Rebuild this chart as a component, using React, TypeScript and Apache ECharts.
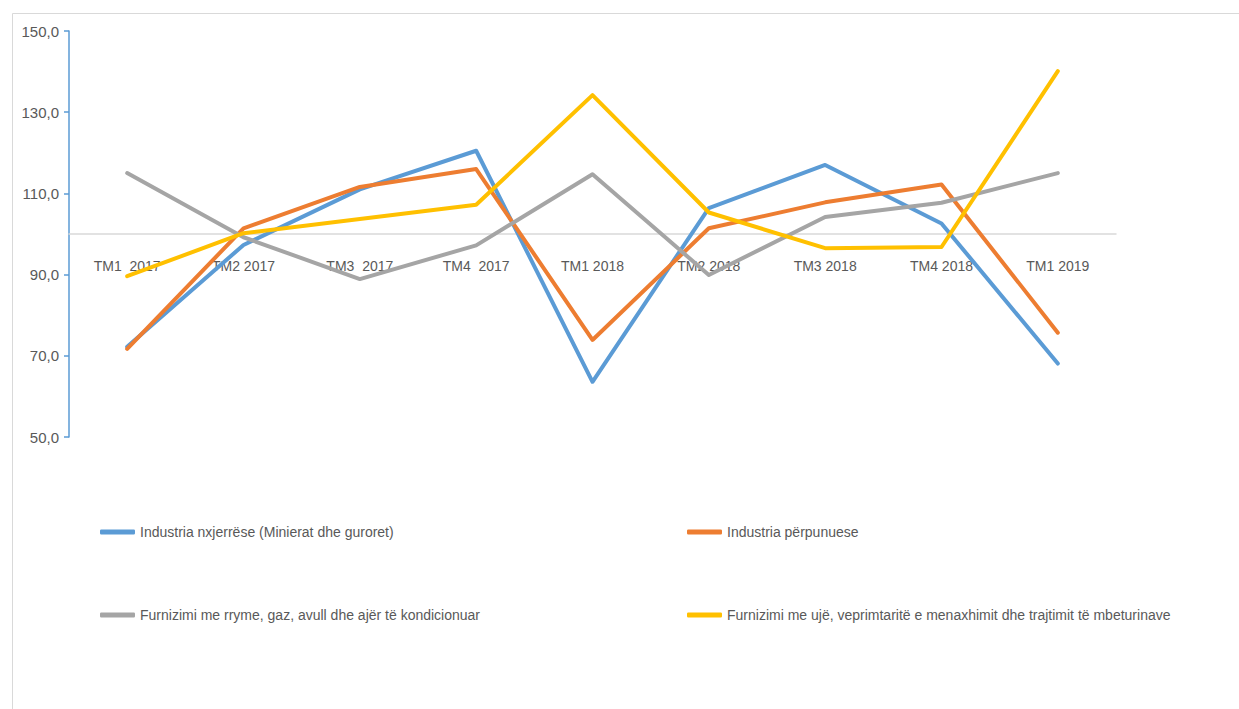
import React, { useEffect, useRef } from "react";
import * as echarts from "echarts";

const categories = [
  "TM1  2017",
  "TM2 2017",
  "TM3  2017",
  "TM4  2017",
  "TM1 2018",
  "TM2 2018",
  "TM3 2018",
  "TM4 2018",
  "TM1 2019",
];

const seriesNames = [
  "Industria nxjerrëse (Minierat dhe guroret)",
  "Industria përpunuese",
  "Furnizimi me rryme, gaz, avull dhe ajër të kondicionuar",
  "Furnizimi me ujë, veprimtaritë e menaxhimit dhe trajtimit të mbeturinave",
];

const miningValues = [72.2, 97.3, 111.0, 120.5, 63.6, 106.4, 117.0, 102.6, 68.1];
const manufacturingValues = [71.7, 101.4, 111.6, 116.0, 73.9, 101.4, 107.8, 112.2, 75.7];
const energyValues = [115.0, 99.2, 88.9, 97.2, 114.7, 89.9, 104.2, 107.7, 115.0];
const waterValues = [89.6, 100.2, 103.7, 107.2, 134.2, 105.3, 96.5, 96.8, 140.1];

const colors = ["#5b9bd5", "#ed7d31", "#a5a5a5", "#ffc000"];
const FONT = "'Liberation Sans Narrow', 'Arial Narrow', 'Liberation Sans', sans-serif";

export default function App() {
  const ref = useRef<HTMLDivElement>(null);

  useEffect(() => {
    if (!ref.current) return;
    const chart = echarts.init(ref.current, null, { renderer: "svg" });
    const allValues = [miningValues, manufacturingValues, energyValues, waterValues];
    const legendPos = [
      { left: 100, top: 525 },
      { left: 687, top: 525 },
      { left: 100, top: 608 },
      { left: 687, top: 608 },
    ];
    chart.setOption({
      animation: false,
      backgroundColor: "#ffffff",
      graphic: [
        {
          type: "rect",
          shape: { x: 12.5, y: 13.5, width: 1400, height: 900 },
          style: { fill: "none", stroke: "#d9d9d9", lineWidth: 1 },
          silent: true,
        },
      ],
      legend: legendPos.map((p, i) => ({
        data: [seriesNames[i]],
        left: p.left,
        top: p.top,
        padding: 0,
        icon: "roundRect",
        itemWidth: 35,
        itemHeight: 5,
        textStyle: { color: "#595959", fontSize: 14, fontFamily: FONT },
      })),
      grid: { left: 69, right: 123, top: 31, bottom: 272 },
      xAxis: {
        type: "category",
        data: categories,
        boundaryGap: true,
        position: "bottom",
        offset: -203,
        axisLine: { show: true, lineStyle: { color: "#d9d9d9", width: 1.5 } },
        axisTick: { show: false },
        axisLabel: {
          color: "#595959",
          fontSize: 14,
          fontFamily: FONT,
          margin: 25,
          interval: 0,
        },
        splitLine: { show: false },
      },
      yAxis: {
        type: "value",
        min: 50,
        max: 150,
        interval: 20,
        axisLine: { show: true, lineStyle: { color: "#5b9bd5", width: 1.5 } },
        axisTick: { show: true, length: 5, lineStyle: { color: "#5b9bd5", width: 1.5 } },
        axisLabel: {
          color: "#595959",
          fontSize: 15,
          fontFamily: FONT,
          margin: 10,
          formatter: (v: number) => v.toFixed(1).replace(".", ","),
        },
        splitLine: { show: false },
      },
      series: seriesNames.map((name, i) => ({
        name,
        type: "line",
        data: allValues[i],
        symbol: "none",
        lineStyle: { color: colors[i], width: 4, cap: "round", join: "round" },
        itemStyle: { color: colors[i] },
      })),
    });
    return () => chart.dispose();
  }, []);

  return (
    <div
      ref={ref}
      style={{ position: "fixed", left: 0, top: 0, width: 1239, height: 709 }}
    />
  );
}
